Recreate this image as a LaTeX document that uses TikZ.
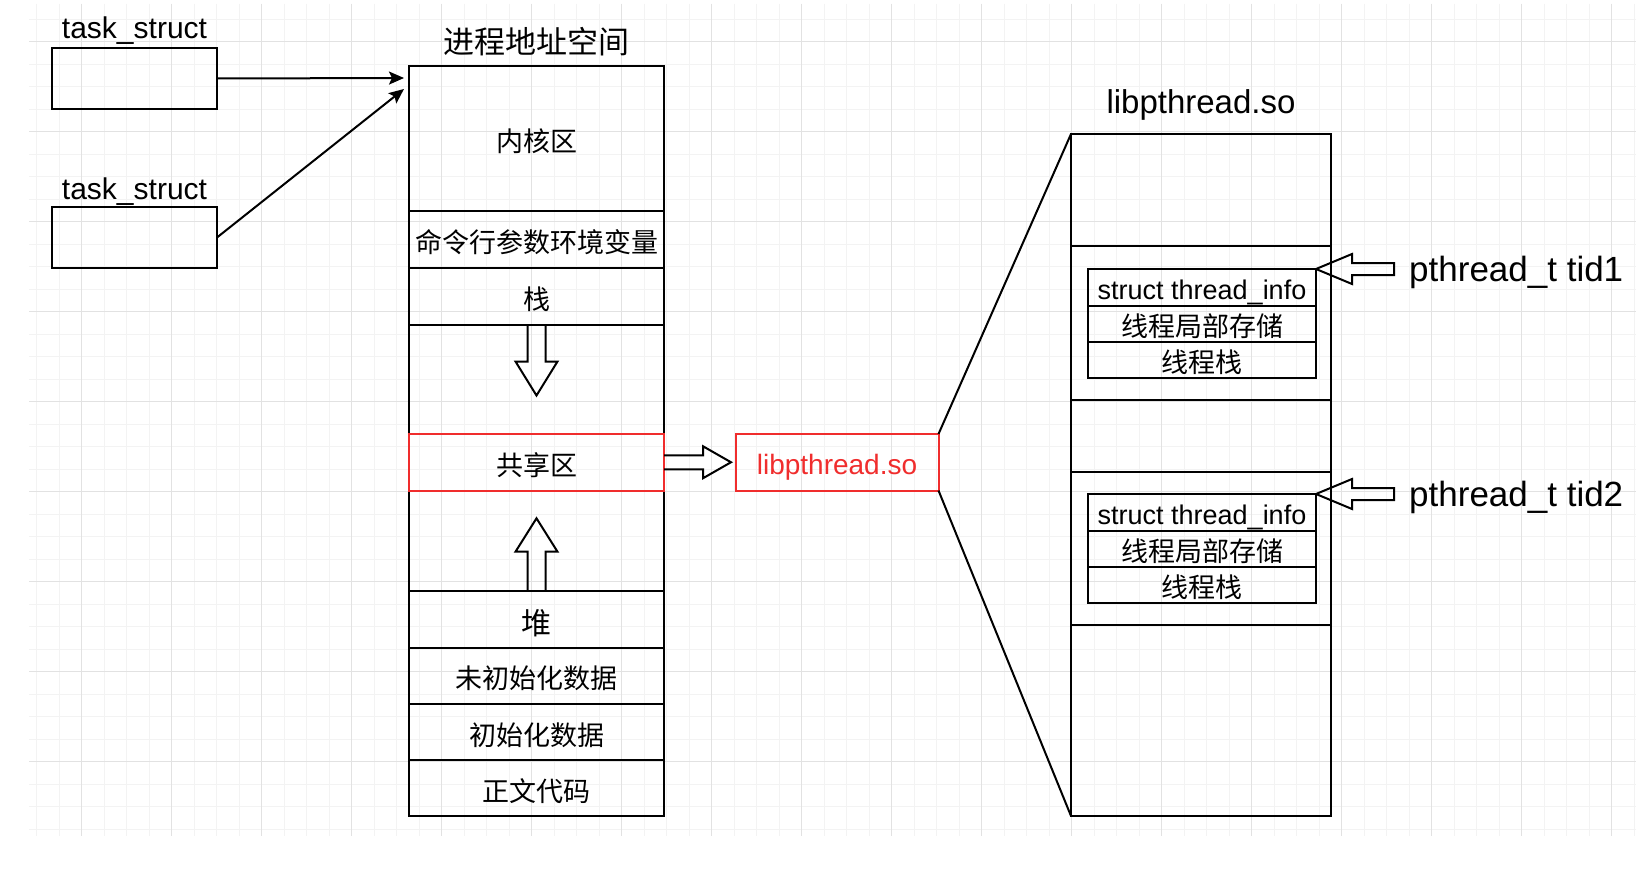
\documentclass[tikz,border=0pt]{standalone}
\usepackage{fontspec}
\setmainfont{Liberation Sans}
\newfontfamily\zhfont{Noto Sans CJK SC}
\usetikzlibrary{arrows.meta,positioning,calc}

\definecolor{libred}{RGB}{240,45,45}
\definecolor{gridlo}{RGB}{243,243,243}
\definecolor{gridhi}{RGB}{226,226,226}

\tikzset{
  seg/.style={draw, line width=2pt, inner sep=0pt, outer sep=0pt, minimum width=255pt,
              text height=26pt, text depth=0pt, font=\zhfont\fontsize{27}{32}\selectfont},
  libseg/.style={draw, line width=2pt, inner sep=0pt, outer sep=0pt, minimum width=260pt},
  inner/.style={draw, line width=2pt, inner sep=0pt, outer sep=0pt, minimum width=228pt},
  taskbox/.style={draw, line width=2pt, outer sep=0pt, minimum width=165pt, minimum height=61pt},
  blk/.style={line width=2pt, line join=miter},
  ptr/.style={line width=2pt, -{Stealth[length=15pt,width=13pt,inset=3pt]}},
  plabel/.style={font=\fontsize{35}{40}\selectfont, inner sep=0pt},
}

\begin{document}
\begin{tikzpicture}[x=1pt,y=-1pt]
\fill[white] (0,0) rectangle (1647,880);
\useasboundingbox (0,0) rectangle (1647,880);

\foreach \gx in {0,...,71}
  \draw[gridlo, line width=1pt] ({36.7+22.5*\gx},4) -- ({36.7+22.5*\gx},836);
\foreach \gy in {0,...,36}
  \draw[gridlo, line width=1pt] (29,{19.2+22.5*\gy}) -- (1636,{19.2+22.5*\gy});
\foreach \gx in {0,...,17}
  \draw[gridhi, line width=1pt] ({81.7+90*\gx},4) -- ({81.7+90*\gx},836);
\foreach \gy in {0,...,8}
  \draw[gridhi, line width=1pt] (29,{41.7+90*\gy}) -- (1636,{41.7+90*\gy});

\node[taskbox] (task1) at (134.5,78.5) {};
\node[taskbox] (task2) at (134.5,237.5) {};
\node[anchor=base, font=\fontsize{30}{36}\selectfont, inner sep=0pt] (tname1) at (134.5,39) {task\_struct};
\node[anchor=base, font=\fontsize{30}{36}\selectfont, inner sep=0pt] (tname2) at (134.5,199) {task\_struct};

\node[font=\zhfont\fontsize{31}{36}\selectfont] (vmtitle) at (536.5,42) {进程地址空间};
\node[seg, minimum height=145pt] (kern) at (536.5,138.5) {内核区};
\node[seg, minimum height=57pt] (args) at (536.5,239.5) {命令行参数环境变量};
\node[seg, minimum height=56.5pt] (stack) at (536.5,296.25) {栈};
\node[seg, minimum height=109.5pt] (gapa) at (536.5,379.25) {};
\node[seg, minimum height=100.5pt] (gapb) at (536.5,540.75) {};
\node[seg, minimum height=56.5pt, text height=31pt, font=\zhfont\fontsize{30}{34}\selectfont] (heap) at (536.5,619.25) {堆};
\node[seg, minimum height=56.5pt] (bss) at (536.5,675.75) {未初始化数据};
\node[seg, minimum height=56pt] (data) at (536.5,732) {初始化数据};
\node[seg, minimum height=56pt] (text) at (536.5,788) {正文代码};
\node[seg, draw=libred, minimum height=56.5pt] (shared) at (536.5,462.25) {共享区};

\coordinate (in1) at ($(kern.north west)+(-5,12)$);
\coordinate (in2) at ($(kern.north west)+(-5,23)$);
\draw[ptr] (task1.east) -- (in1);
\draw[ptr] (task2.east) -- (in2);

\draw[blk] ($(stack.south)+(-9,0)$) -- ++(0,37) -- ++(-12,0) -- ++(21,34) -- ++(21,-34) -- ++(-12,0) -- ++(0,-37);
\draw[blk] ($(heap.north)+(-9,0)$) -- ++(0,-39.3) -- ++(-12,0) -- ++(21,-33.4) -- ++(21,33.4) -- ++(-12,0) -- ++(0,39.3);

\node[draw=libred, line width=2pt, inner sep=0pt, outer sep=0pt, minimum width=203pt, minimum height=56.5pt,
      text height=23.6pt, text depth=0pt, text=libred, font=\fontsize{28}{32}\selectfont] (lib) at (837,462.25) {libpthread.so};
\draw[blk] ($(shared.east)+(0,-7)$) -- ++(39,0) -- ++(0,-9) -- ++(28,16) -- ++(-28,16) -- ++(0,-9) -- ++(-39,0);

\node[font=\fontsize{33}{38}\selectfont, anchor=base, inner sep=0pt] (libtitle) at (1201,114) {libpthread.so};
\node[libseg, minimum height=112pt] (ltop) at (1201,190) {};
\node[libseg, minimum height=154pt] (thr1) at (1201,323) {};
\node[libseg, minimum height=71.5pt] (lmid) at (1201,435.75) {};
\node[libseg, minimum height=153pt] (thr2) at (1201,548) {};
\node[libseg, minimum height=191.5pt] (lbot) at (1201,720.25) {};

\draw[line width=2pt] (lib.north east) -- (ltop.north west);
\draw[line width=2pt] (lib.south east) -- (lbot.south west);

\foreach \k/\ytop in {1/269, 2/494} {
  \node[inner, minimum height=36.5pt, text height=24pt, text depth=0pt, font=\fontsize{27}{32}\selectfont] (info\k) at (1202,\ytop+18.25) {struct thread\_info};
  \node[inner, minimum height=36pt, text height=25pt, text depth=0pt, font=\zhfont\fontsize{27}{32}\selectfont, below=0pt of info\k] (tls\k) {线程局部存储};
  \node[inner, minimum height=36pt, text height=25pt, text depth=0pt, font=\zhfont\fontsize{27}{32}\selectfont, below=0pt of tls\k] (tstk\k) {线程栈};
  \draw[blk] (info\k.north east) -- ++(36,-15) -- ++(0,9) -- ++(42,0) -- ++(0,12) -- ++(-42,0) -- ++(0,9) -- cycle;
  \node[plabel, anchor=west] (tid\k) at ($(info\k.north east)+(93,3)$) {pthread\_t tid\k};
}
\end{tikzpicture}
\end{document}
